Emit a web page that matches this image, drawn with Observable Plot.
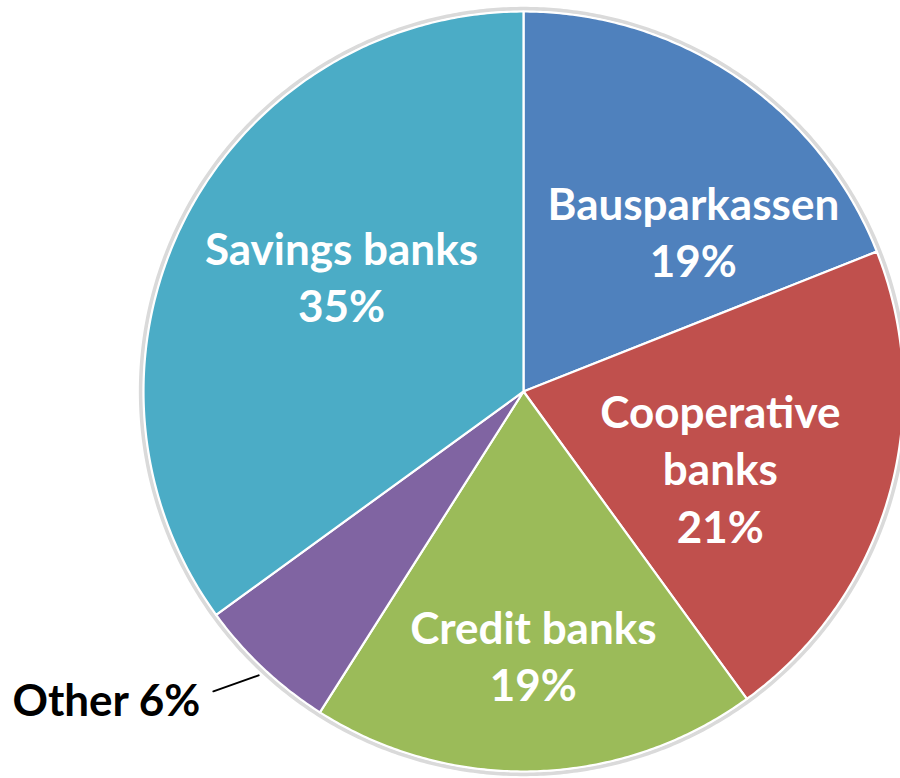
<!DOCTYPE html>
<html>
<head>
<meta charset="utf-8">
<script src="https://cdn.jsdelivr.net/npm/d3@7"></script>
<script src="https://cdn.jsdelivr.net/npm/@observablehq/plot@0.6"></script>
<style>
  html, body { margin: 0; padding: 0; background: #fff; }
  #chart { width: 900px; height: 778px; overflow: hidden; }
</style>
</head>
<body>
<div id="chart"></div>
<script>
// ---- data ----
const categories = ["Bausparkassen", "Cooperative banks", "Credit banks", "Other", "Savings banks"];
const shares = [19, 21, 19, 6, 35];
const labelText = ["Bausparkassen\n19%", "Cooperative\nbanks\n21%", "Credit banks\n19%", "Other 6%", "Savings banks\n35%"];
const colors = ["#4F81BD", "#C0504D", "#9BBB59", "#8064A2", "#4BACC6"];

// ---- layout (unit-circle coordinates) ----
const labelAt = [[0.447, 0.424], [0.518, -0.199], [0.026, -0.692], [-1.345, -0.817], [-0.479, 0.305]];
const leader = [[-0.816, -0.789], [-0.697, -0.747]];

const arcs = d3.pie().sort(null).value(d => d.v)(categories.map((c, i) => ({c, v: shares[i]})));
const slicePts = [];
arcs.forEach(a => {
  const n = Math.max(8, Math.ceil((a.endAngle - a.startAngle) / (Math.PI / 360)));
  slicePts.push({c: a.data.c, x: 0, y: 0});
  for (let k = 0; k <= n; k++) {
    const t = a.startAngle + (a.endAngle - a.startAngle) * k / n;
    slicePts.push({c: a.data.c, x: Math.sin(t), y: Math.cos(t)});
  }
  slicePts.push({c: a.data.c, x: 0, y: 0});
});
const ring = d3.range(0, 721).map(k => ({x: 1.007 * Math.sin(k * Math.PI / 360), y: 1.007 * Math.cos(k * Math.PI / 360)}));

const labels = categories.map((c, i) => ({c, text: labelText[i], x: labelAt[i][0], y: labelAt[i][1], other: c === "Other"}));

const chart = Plot.plot({
  width: 900,
  height: 778,
  margin: 0,
  x: {domain: [-1, 1], range: [143, 903], axis: null},
  y: {domain: [-1, 1], range: [771, 11], axis: null},
  color: {domain: categories, range: colors},
  style: {background: "#fff", overflow: "hidden"},
  marks: [
    Plot.line(ring, {x: "x", y: "y", stroke: "#dadada", strokeWidth: 4}),
    Plot.line(slicePts, {x: "x", y: "y", z: "c", fill: "c", stroke: "#fff", strokeWidth: 2.2, strokeLinejoin: "round"}),
    Plot.line(leader.map(([x, y]) => ({x, y})), {x: "x", y: "y", stroke: "#000", strokeWidth: 2}),
    Plot.text(labels.filter(d => !d.other), {
      x: "x", y: "y", text: "text", fill: "#fff", fontSize: 44, fontWeight: "bold",
      fontFamily: "Lato, 'Open Sans', sans-serif", lineHeight: 1.3, lineAnchor: "middle", textAnchor: "middle"
    }),
    Plot.text(labels.filter(d => d.other), {
      x: "x", y: "y", text: "text", fill: "#000", fontSize: 44, fontWeight: "bold",
      fontFamily: "Lato, 'Open Sans', sans-serif", lineAnchor: "middle", textAnchor: "start"
    })
  ]
});
document.getElementById("chart").appendChild(chart);
</script>
</body>
</html>
